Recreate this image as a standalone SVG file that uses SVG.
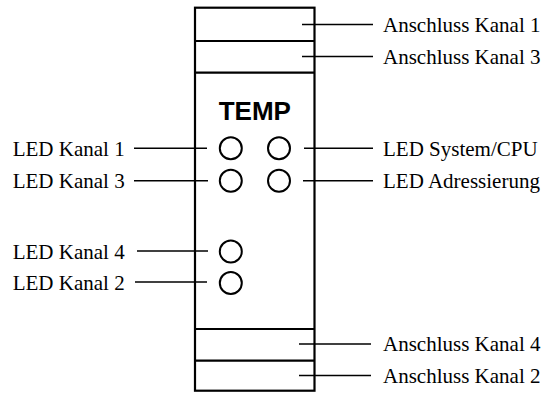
<svg xmlns="http://www.w3.org/2000/svg" width="545" height="393" viewBox="0 0 545 393">
<style>
.box{fill:none;stroke:#000;stroke-width:2.2}
.led{fill:#fff;stroke:#000;stroke-width:2}
.c{stroke:#000;stroke-width:1.5;fill:none}
.t{font-family:"Liberation Serif","Times New Roman",serif;font-size:21px;fill:#000}
.title{font-family:"Liberation Sans",Arial,sans-serif;font-size:26px;font-weight:bold;fill:#000}
</style>
<rect width="545" height="393" fill="#fff"/>
<g id="module">
<rect class="box" x="195" y="7.7" width="119.5" height="383"/>
<line class="box" x1="195" y1="41" x2="314.5" y2="41"/>
<line class="box" x1="195" y1="72.7" x2="314.5" y2="72.7"/>
<line class="box" x1="195" y1="329" x2="314.5" y2="329"/>
<line class="box" x1="195" y1="360.7" x2="314.5" y2="360.7"/>
<text class="title" x="254.8" y="120" text-anchor="middle">TEMP</text>
</g>
<g id="led1"><circle class="led" cx="230.8" cy="148.3" r="11"/></g>
<g id="ledcpu"><circle class="led" cx="279" cy="148.3" r="11"/></g>
<g id="led3"><circle class="led" cx="230.8" cy="180.7" r="11"/></g>
<g id="ledadr"><circle class="led" cx="279" cy="180.7" r="11"/></g>
<g id="led4"><circle class="led" cx="230.8" cy="251.5" r="11"/></g>
<g id="led2"><circle class="led" cx="230.8" cy="283" r="11"/></g>
<g id="connectors">
<line class="c" x1="302" y1="24.5" x2="373" y2="24.5"/>
<line class="c" x1="302" y1="56.5" x2="373" y2="56.5"/>
<line class="c" x1="134" y1="148.3" x2="207" y2="148.3"/>
<line class="c" x1="134" y1="180.7" x2="208" y2="180.7"/>
<line class="c" x1="304" y1="148.3" x2="373" y2="148.3"/>
<line class="c" x1="303" y1="180.7" x2="373" y2="180.7"/>
<line class="c" x1="137" y1="251" x2="208" y2="251"/>
<line class="c" x1="135" y1="282" x2="207" y2="282"/>
<line class="c" x1="299" y1="344" x2="371" y2="344"/>
<line class="c" x1="299" y1="375.5" x2="371" y2="375.5"/>
</g>
<g id="labels">
<text class="t" x="383" y="31.5">Anschluss Kanal 1</text>
<text class="t" x="383" y="63.5">Anschluss Kanal 3</text>
<text class="t" x="12.7" y="155.5">LED Kanal 1</text>
<text class="t" x="12.7" y="188">LED Kanal 3</text>
<text class="t" x="383" y="155.5">LED System/CPU</text>
<text class="t" x="383" y="188">LED Adressierung</text>
<text class="t" x="12.7" y="258.5">LED Kanal 4</text>
<text class="t" x="12.7" y="289.5">LED Kanal 2</text>
<text class="t" x="383" y="351">Anschluss Kanal 4</text>
<text class="t" x="383" y="382.5">Anschluss Kanal 2</text>
</g>
</svg>
